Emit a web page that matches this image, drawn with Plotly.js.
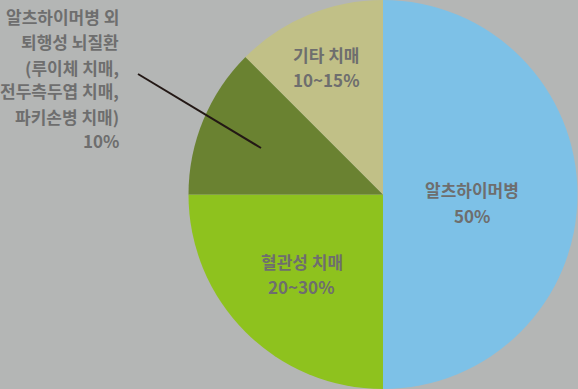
<!DOCTYPE html>
<html>
<head>
<meta charset="utf-8">
<script src="https://cdn.plot.ly/plotly-3.0.1.min.js"></script>
<style>html,body{margin:0;padding:0;background:#b4b6b5;}#chart{width:578px;height:389px;}</style>
</head>
<body>
<div id="chart"></div>
<script>
// Data
const categories = ["알츠하이머병", "혈관성 치매", "알츠하이머병 외 퇴행성 뇌질환", "기타 치매"];
const values = [50, 25, 12.5, 12.5];
const valueLabels = ["50%", "20~30%", "10%", "10~15%"];
const otherLabelLines = ["알츠하이머병 외", "퇴행성 뇌질환", "(루이체 치매,", "전두측두엽 치매,", "파키손병 치매)"];
const colors = ["#7dc1e7", "#8ec21e", "#6a8231", "#c1c087"];

const W = 578, H = 389;
const px = x => x / W;
const py = y => 1 - y / H;
const font = {family: "Noto Sans CJK KR", size: 17, color: "#6e6e6e", weight: "bold"};

const annotations = [];
function addText(text, x, y, anchor) {
  annotations.push({text: "<b>" + text + "</b>", xref: "paper", yref: "paper", x: px(x), y: py(y),
    xanchor: anchor || "center", yanchor: "middle", showarrow: false, font: font});
}
addText(categories[0], 472, 189); addText(valueLabels[0], 472, 215);
addText(categories[1], 302, 261); addText(valueLabels[1], 301, 286);
addText(categories[3], 326, 55); addText(valueLabels[3], 326, 79);
const leftLines = otherLabelLines.concat([valueLabels[2]]);
const leftY = [17, 42, 67, 91, 116, 141];
leftLines.forEach((t, i) => addText(t, 121, leftY[i], "right"));

const data = [{
  type: "pie",
  labels: categories,
  values: values,
  sort: false,
  direction: "clockwise",
  rotation: 0,
  textinfo: "none",
  hoverinfo: "none",
  marker: {colors: colors, line: {width: 0}},
  domain: {x: [px(188), 1], y: [0, 1]},
  showlegend: false
}];

const layout = {
  width: W, height: H,
  margin: {l: 0, r: 0, t: 0, b: 0},
  paper_bgcolor: "#b4b6b5",
  plot_bgcolor: "#b4b6b5",
  showlegend: false,
  annotations: annotations,
  shapes: [{type: "line", xref: "paper", yref: "paper", x0: px(138), y0: py(74), x1: px(261), y1: py(148),
    line: {color: "#231815", width: 2}}]
};
Plotly.newPlot("chart", data, layout, {staticPlot: true});
</script>
</body>
</html>
